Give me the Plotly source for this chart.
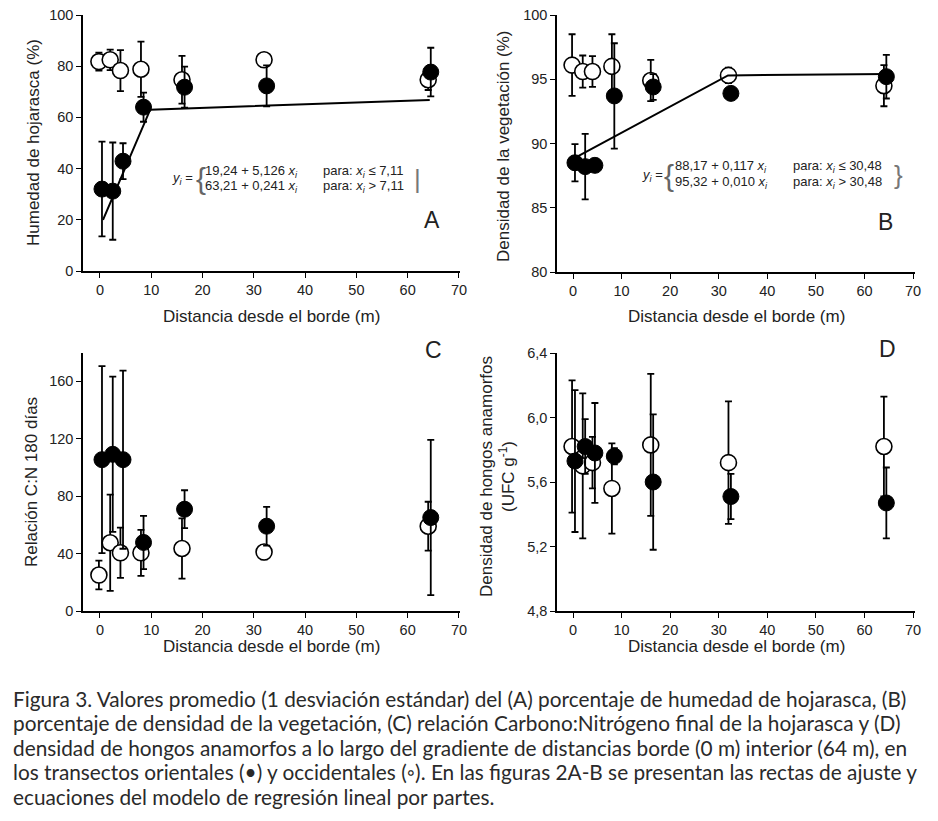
import plotly.graph_objects as go

# ---------------- data ----------------
dist_open = [-0.2, 2, 4, 8, 16, 32, 64]
dist_fill = [0.4, 2.5, 4.5, 8.5, 16.5, 32.5, 64.5]

# A: Humedad de hojarasca (%)
A_open = [81.8, 82.5, 78.3, 78.8, 74.7, 82.5, 74.7]
A_open_sd = [3.5, 4.0, 8.0, 10.8, 9.3, 2.0, 4.0]
A_fill = [32.0, 31.2, 42.9, 64.0, 71.8, 72.3, 77.7]
A_fill_sd = [18.5, 19.0, 7.0, 5.7, 8.0, 8.0, 9.5]
A_fit_x = [0.6, 9.8, 64.3]
A_fit_y = [20.0, 63.0, 66.8]

# B: Densidad de la vegetación (%)
B_open = [96.1, 95.6, 95.6, 96.0, 94.9, 95.3, 94.5]
B_open_sd = [2.4, 1.25, 1.2, 2.5, 1.6, 0.6, 1.6]
B_fill = [88.5, 88.2, 88.3, 93.7, 94.4, 93.9, 95.2]
B_fill_sd = [1.45, 2.55, 0.3, 4.1, 1.0, 0.4, 1.7]
B_fit_x = [0.0, 31.9, 64.9]
B_fit_y = [88.8, 95.3, 95.4]

# C: Relación C:N 180 días
C_open = [25.0, 47.5, 40.5, 40.5, 43.5, 41.0, 59.0]
C_open_sd = [10.0, 33.5, 17.5, 16.0, 21.0, 5.0, 17.0]
C_fill = [105.3, 109.0, 105.3, 47.7, 70.8, 59.0, 65.0]
C_fill_sd = [65.0, 54.0, 62.0, 18.5, 13.2, 13.5, 54.0]

# D: Densidad de hongos anamorfos (UFC g-1)
D_open = [5.82, 5.70, 5.72, 5.56, 5.83, 5.72, 5.82]
D_open_sd = [0.41, 0.45, 0.16, 0.28, 0.44, 0.38, 0.31]
D_fill = [5.73, 5.82, 5.78, 5.76, 5.60, 5.51, 5.47]
D_fill_sd = [0.44, 0.17, 0.31, 0.05, 0.42, 0.14, 0.22]

x_ticks = [0, 10, 20, 30, 40, 50, 60, 70]
A_ticks = [0, 20, 40, 60, 80, 100]
B_ticks = [80, 85, 90, 95, 100]
C_ticks = [0, 40, 80, 120, 160]
D_ticks = [4.8, 5.2, 5.6, 6.0, 6.4]

x_title = "Distancia desde el borde (m)"
caption_lines = [
    "Figura 3. Valores promedio (1 desviación estándar) del (A) porcentaje de humedad de hojarasca, (B)",
    "porcentaje de densidad de la vegetación, (C) relación Carbono:Nitrógeno final de la hojarasca y (D)",
    "densidad de hongos anamorfos a lo largo del gradiente de distancias borde (0 m) interior (64 m), en",
    "los transectos orientales (•) y occidentales (◦). En las figuras 2A-B se presentan las rectas de ajuste y",
    "ecuaciones del modelo de regresión lineal por partes.",
]

# ---------------- layout helpers ----------------
W, H = 938, 821
# measured mapping of paper coordinates to the photographed page
W_EFF, H_EFF, OFF_Y = 931, 805, 8
def px(x):
    return x / W_EFF
def py(y):
    return 1 - (y - OFF_Y) / H_EFF

FONT = "Liberation Sans, Arial, sans-serif"
TXT = "#222"

fig = go.Figure()

def add_series(xa, ya, xo, yo, so, xf, yf, sf):
    fig.add_trace(go.Scatter(
        x=xo, y=yo, mode="markers", xaxis=xa, yaxis=ya, showlegend=False,
        marker=dict(size=16, color="white", line=dict(color="black", width=1.6)),
        error_y=dict(type="data", array=so, color="black", thickness=1.8, width=3.5)))
    fig.add_trace(go.Scatter(
        x=xf, y=yf, mode="markers", xaxis=xa, yaxis=ya, showlegend=False,
        marker=dict(size=16, color="black", line=dict(color="black", width=1)),
        error_y=dict(type="data", array=sf, color="black", thickness=1.8, width=3.5)))

add_series("x", "y", dist_open, A_open, A_open_sd, dist_fill, A_fill, A_fill_sd)
fig.add_trace(go.Scatter(x=A_fit_x, y=A_fit_y, mode="lines", xaxis="x", yaxis="y",
                         showlegend=False, line=dict(color="black", width=2)))
add_series("x2", "y2", dist_open, B_open, B_open_sd, dist_fill, B_fill, B_fill_sd)
fig.add_trace(go.Scatter(x=B_fit_x, y=B_fit_y, mode="lines", xaxis="x2", yaxis="y2",
                         showlegend=False, line=dict(color="black", width=2)))
add_series("x3", "y3", dist_open, C_open, C_open_sd, dist_fill, C_fill, C_fill_sd)
add_series("x4", "y4", dist_open, D_open, D_open_sd, dist_fill, D_fill, D_fill_sd)

def xaxis(x0, x1, y_anchor, rng):
    return dict(domain=[px(x0), px(x1)], range=rng, anchor=y_anchor,
                tickvals=x_ticks, showline=True, linecolor="black", linewidth=1.5,
                ticks="outside", ticklen=5, tickwidth=1.3, tickcolor="black",
                showgrid=False, zeroline=False,
                tickfont=dict(family=FONT, size=14.5, color=TXT))

def yaxis(y0, y1, x_anchor, rng, ticks, fmt=None):
    d = dict(domain=[py(y1), py(y0)], range=rng, anchor=x_anchor,
             tickvals=ticks, showline=True, linecolor="black", linewidth=1.5,
             ticks="outside", ticklen=5, tickwidth=1.3, tickcolor="black",
             showgrid=False, zeroline=False,
             tickfont=dict(family=FONT, size=14.5, color=TXT))
    if fmt:
        d["tickformat"] = fmt
    return d

xrA = [-3.3, 70.2]
xrB = [-3.3, 70.4]

fig.update_layout(
    width=W, height=H, margin=dict(l=0, r=0, t=0, b=0),
    paper_bgcolor="white", plot_bgcolor="white",
    separators=",.",
    xaxis=xaxis(83, 460, "y", xrA),
    yaxis=yaxis(15, 271, "x", [0, 100], A_ticks),
    xaxis2=xaxis(557, 915, "y2", xrB),
    yaxis2=yaxis(15, 272, "x2", [80, 100], B_ticks),
    xaxis3=xaxis(83, 460, "y3", xrA),
    yaxis3=yaxis(353, 611, "x3", [0, 179.5], C_ticks),
    xaxis4=xaxis(557, 915, "y4", xrB),
    yaxis4=yaxis(353, 611, "x4", [4.8, 6.4], D_ticks, ".1f"),
)

ann = []
def text(x, y, s, size=16, angle=0, xanchor="center", color=TXT, family=FONT, align="center"):
    ann.append(dict(x=px(x), y=py(y), xref="paper", yref="paper", text=s, showarrow=False,
                    xanchor=xanchor, yanchor="middle", textangle=angle, align=align,
                    font=dict(family=family, size=size, color=color)))

# axis titles
for cx, cy in [(271, 316), (736, 316), (271, 646), (736, 646)]:
    text(cx, cy, x_title, size=17)
text(33, 143, "Humedad de hojarasca (%)", size=17, angle=-90)
text(503, 146, "Densidad de la vegetación (%)", size=17, angle=-90)
text(31, 482, "Relación C:N 180 días", size=17, angle=-90)
text(497, 477, "Densidad de hongos anamorfos<br>(UFC g<sup>-1</sup>)", size=17, angle=-90)

# panel letters
text(432, 220, "A", size=23)
text(885, 222, "B", size=23)
text(433, 350, "C", size=23)
text(887, 349, "D", size=23)

# equations
EQ = 13
text(170, 179, "<i>y<sub>i</sub></i> =", size=EQ, xanchor="left")
text(194, 179, "{", size=30, xanchor="left", color="#666")
text(203, 171, "19,24 + 5,126 <i>x<sub>i</sub></i>", size=EQ, xanchor="left")
text(203, 186, "63,21 + 0,241 <i>x<sub>i</sub></i>", size=EQ, xanchor="left")
text(321, 171, "para: <i>x<sub>i</sub></i> ≤ 7,11", size=EQ, xanchor="left")
text(321, 186, "para: <i>x<sub>i</sub></i> > 7,11", size=EQ, xanchor="left")
text(412, 179, "|", size=26, xanchor="left", color="#777")

text(640, 175, "<i>y<sub>i</sub></i> =", size=EQ, xanchor="left")
text(662, 175, "{", size=30, xanchor="left", color="#666")
text(673, 166, "88,17 + 0,117 <i>x<sub>i</sub></i>", size=EQ, xanchor="left")
text(673, 182, "95,32 + 0,010 <i>x<sub>i</sub></i>", size=EQ, xanchor="left")
text(791, 166, "para: <i>x<sub>i</sub></i> ≤ 30,48", size=EQ, xanchor="left")
text(791, 182, "para: <i>x<sub>i</sub></i> > 30,48", size=EQ, xanchor="left")
text(892, 175, "}", size=26, xanchor="left", color="#777")

# caption, one annotation per line
for i, line in enumerate(caption_lines):
    text(11, 698 + 24.5 * i, line, size=20.8, xanchor="left",
         family="Lato, sans-serif", color="#2a2a2a", align="left")

fig.update_layout(annotations=ann)

pin = ("document.documentElement.style.margin='0';"
       "document.documentElement.style.overflow='hidden';"
       "document.body.style.margin='0';document.body.style.overflow='hidden';"
       "var d=document.getElementById('{plot_id}');"
       "d.style.position='fixed';d.style.left='0px';d.style.top='0px';")
fig.write_html("out.html", config={"displayModeBar": False}, post_script=pin)
